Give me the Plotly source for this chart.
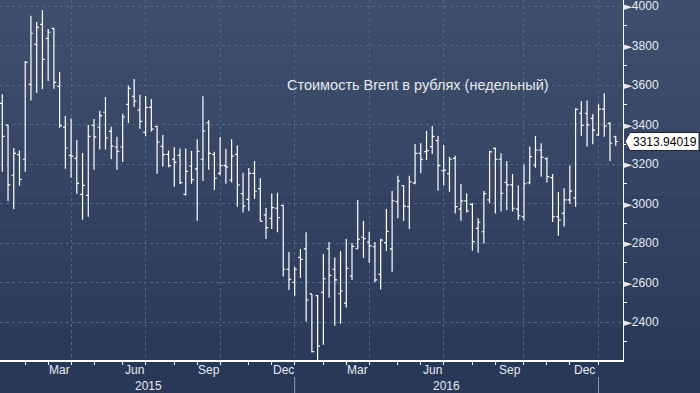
import plotly.graph_objects as go
import pandas as pd

# ---------------- data (weekly OHLC, Brent in roubles) ----------------
week_dates = pd.date_range("2015-01-09", periods=108, freq="7D")

opens = [3507, 3397, 3143, 3247, 3224, 3603, 3806, 3907, 3836, 3887,
         3593, 3387, 3244, 3229, 3046, 3041, 3396, 3386, 3462, 3365,
         3286, 3286, 3502, 3543, 3473, 3360, 3487, 3391, 3289, 3249,
         3224, 3244, 3046, 3190, 3175, 3224, 3409, 3249, 3153, 3192,
         3119, 3249, 3050, 3021, 3153, 3075, 2942, 2925, 2976, 2991,
         2667, 2601, 2727, 2770, 2542, 2533, 2550, 2771, 2667, 2543,
         2496, 2633, 2771, 2829, 2805, 2781, 2641, 2802, 2770, 3009,
         3090, 2984, 3104, 3254, 3263, 3288, 3318, 3166, 3151, 3229,
         2972, 3013, 2996, 2874, 2857, 3018, 3279, 3224, 3107, 3094,
         2972, 2933, 3105, 3195, 3271, 3227, 3131, 2933, 2950, 3018,
         3028, 3457, 3457, 3431, 3347, 3478, 3406, 3338]
highs = [3553, 3397, 3281, 3268, 3722, 3951, 3919, 3980, 3884, 3889,
         3666, 3443, 3430, 3322, 3256, 3397, 3428, 3470, 3539, 3389,
         3338, 3455, 3597, 3630, 3551, 3544, 3529, 3392, 3347, 3268,
         3286, 3278, 3279, 3266, 3325, 3543, 3421, 3262, 3337, 3276,
         3325, 3295, 3156, 3180, 3215, 3129, 2977, 3051, 3055, 2992,
         2754, 2680, 2770, 2854, 2542, 2537, 2744, 2805, 2726, 2760,
         2820, 2800, 3018, 2913, 2857, 2805, 2822, 2972, 3063, 3141,
         3094, 3141, 3301, 3305, 3367, 3392, 3342, 3296, 3237, 3242,
         3099, 3052, 3002, 2925, 3063, 3267, 3283, 3254, 3215, 3149,
         3092, 3197, 3288, 3342, 3305, 3234, 3149, 3058, 3077, 3193,
         3482, 3519, 3522, 3453, 3502, 3558, 3411, 3343]
lows = [3161, 3013, 2972, 3090, 3161, 3521, 3561, 3580, 3620, 3581,
        3384, 3176, 3131, 3050, 2918, 2933, 3171, 3273, 3273, 3224,
        3171, 3210, 3408, 3489, 3379, 3340, 3364, 3151, 3186, 3183,
        3085, 3099, 3041, 3100, 2913, 3114, 3171, 3068, 3143, 3100,
        3106, 2984, 2955, 2962, 3023, 2910, 2820, 2871, 2854, 2630,
        2562, 2533, 2624, 2402, 2246, 2208, 2285, 2523, 2381, 2391,
        2473, 2613, 2771, 2724, 2699, 2601, 2564, 2759, 2655, 2925,
        2913, 2871, 3097, 3153, 3220, 3251, 3065, 3092, 3060, 2950,
        2913, 2955, 2761, 2751, 2798, 3001, 2950, 2959, 2967, 2959,
        2916, 2913, 3097, 3181, 3136, 3106, 2906, 2837, 2883, 2997,
        2984, 3343, 3288, 3300, 3343, 3338, 3215, 3293]
closes = [3340, 3094, 3254, 3122, 3715, 3862, 3892, 3730, 3867, 3613,
          3394, 3281, 3240, 3102, 3092, 3340, 3337, 3445, 3332, 3291,
          3264, 3438, 3583, 3519, 3416, 3487, 3377, 3311, 3247, 3192,
          3208, 3106, 3163, 3121, 3264, 3367, 3254, 3127, 3192, 3185,
          3240, 3094, 2987, 3153, 3062, 2910, 2878, 2979, 2928, 2667,
          2616, 2667, 2717, 2511, 2250, 2278, 2619, 2636, 2613, 2557,
          2672, 2783, 2819, 2822, 2785, 2613, 2815, 2859, 3014, 3114,
          2987, 3110, 3254, 3224, 3268, 3340, 3192, 3169, 3224, 2984,
          3013, 2962, 2807, 2905, 3050, 3261, 3224, 3052, 3094, 2976,
          2938, 3100, 3237, 3271, 3234, 3136, 2933, 2916, 3018, 3063,
          3477, 3396, 3398, 3372, 3478, 3392, 3305, 3313.94019]

title_text = "Стоимость Brent в рублях (недельный)"
month_names = {3: "Mar", 6: "Jun", 9: "Sep", 12: "Dec"}
y_ticks = [2400, 2600, 2800, 3000, 3200, 3400, 3600, 3800, 4000]
y_minor = [2300, 2500, 2700, 2900, 3100, 3300, 3500, 3700, 3900]
y_range = [2207.6, 4030.4]

# ---------------- derived positions ----------------
idx = list(range(len(week_dates)))
month_starts = [i for i in idx[1:] if week_dates[i].month != week_dates[i - 1].month]
quarter_starts = [i for i in month_starts if week_dates[i].month in (1, 4, 7, 10)]
year_starts = [i for i in month_starts if week_dates[i].month == 1]

GRID = "rgb(72,106,135)"
TXT = "#e6e9ef"
FONT = "Liberation Sans"

fig = go.Figure()
fig.add_trace(go.Ohlc(
    x=idx, open=opens, high=highs, low=lows, close=closes,
    text=[d.strftime("%d.%m.%Y") for d in week_dates],
    increasing=dict(line=dict(color="white", width=1.2)),
    decreasing=dict(line=dict(color="white", width=1.2)),
    tickwidth=0.4, showlegend=False,
))

# background gradient bands (top lighter, bottom darker)
H_PLOT = 360.0
top_c = (63, 78, 108)
bot_c = (42, 56, 88)
nb = 12
for k in range(nb):
    t = k / (nb - 1)
    c = tuple(round(top_c[j] + (bot_c[j] - top_c[j]) * t) for j in range(3))
    y_top = k * 393.0 / nb
    y_bot = (k + 1) * 393.0 / nb
    fig.add_shape(type="rect", xref="paper", yref="paper",
                  x0=-0.05, x1=1.2, y0=1 - y_bot / H_PLOT, y1=1 - y_top / H_PLOT,
                  fillcolor="rgb(%d,%d,%d)" % c, line=dict(width=0), layer="below")

# year separators under the axis
for i in year_starts:
    fig.add_shape(type="line", xref="x", yref="paper", x0=i, x1=i,
                  y0=1 - 393 / H_PLOT, y1=1 - 377 / H_PLOT,
                  line=dict(color="#8d97a8", width=1))

# month labels
for i in month_starts:
    m = week_dates[i].month
    if m in month_names:
        nxt = [j for j in month_starts if j > i]
        if nxt:
            fig.add_annotation(x=(i + nxt[0]) / 2, y=1 - 370.5 / H_PLOT, xref="x", yref="paper",
                               xanchor="center", yanchor="middle",
                               text=month_names[m], showarrow=False,
                               font=dict(family=FONT, size=12, color=TXT))

# year labels
bounds = [0] + year_starts
for a, b in zip(bounds[:-1], bounds[1:]):
    fig.add_annotation(x=(a + b) / 2, y=1 - 386 / H_PLOT, xref="x", yref="paper",
                       xanchor="center", yanchor="middle",
                       text=str(week_dates[a].year), showarrow=False,
                       font=dict(family=FONT, size=12, color=TXT))

# title
fig.add_annotation(x=418 / 622.7, y=1 - 85 / H_PLOT, xref="paper", yref="paper",
                   xanchor="center", yanchor="middle",
                   text=title_text, showarrow=False,
                   font=dict(family=FONT, size=14.5, color=TXT))

# last price tag
last = closes[-1]
pv = (last - y_range[0]) / (y_range[1] - y_range[0])
fig.add_shape(type="path", xref="paper", yref="paper",
              xsizemode="pixel", ysizemode="pixel", xanchor=1, yanchor=pv,
              path="M 2 0 L 7 9 L 76 9 L 76 -9 L 7 -9 Z",
              fillcolor="white", line=dict(color="#222831", width=1))
fig.add_annotation(x=1, xshift=8, xanchor="left", xref="paper", y=last, yref="y",
                   yanchor="middle",
                   text="%.5f" % last, showarrow=False,
                   font=dict(family=FONT, size=12, color="black"))

tri = '<span style="font-family:DejaVu Sans;font-size:11px">\u25ba</span>'

fig.update_layout(
    width=700, height=393, autosize=False,
    margin=dict(l=0, r=77, t=0, b=33),
    paper_bgcolor="rgb(42,56,88)", plot_bgcolor="rgba(0,0,0,0)",
    xaxis=dict(
        range=[-0.4, 108.27], tickmode="array", tickvals=quarter_starts,
        showticklabels=False, ticks="outside", ticklen=3, tickcolor="white",
        showgrid=True, gridcolor=GRID, griddash="3px,3px", gridwidth=1,
        showline=True, linecolor="white", linewidth=2, zeroline=False,
        minor=dict(tickmode="array", tickvals=month_starts, ticks="outside",
                   ticklen=3, tickcolor="white", showgrid=False),
        rangeslider=dict(visible=False), fixedrange=True,
    ),
    yaxis=dict(
        side="right", range=y_range, tickmode="array", tickvals=y_ticks,
        ticktext=[tri + str(v) for v in y_ticks], ticks="",
        ticklabelstandoff=-3, ticklabeloverflow="allow",
        tickfont=dict(family=FONT, size=12, color=TXT),
        showgrid=True, gridcolor=GRID, griddash="3px,3px", gridwidth=1,
        showline=True, linecolor="white", linewidth=1, zeroline=False,
        minor=dict(tickmode="array", tickvals=y_minor, ticks="outside",
                   ticklen=3, tickcolor="white", showgrid=False),
        fixedrange=True,
    ),
)

fig.write_html("out.html")
